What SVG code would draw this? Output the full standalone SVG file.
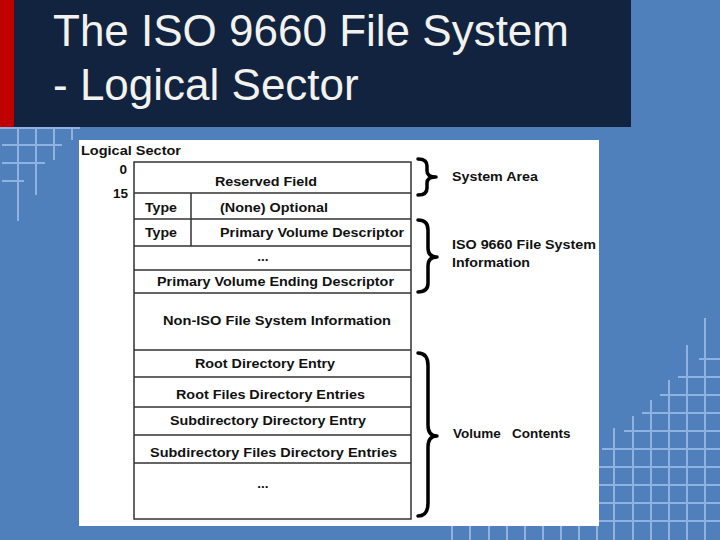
<svg xmlns="http://www.w3.org/2000/svg" width="720" height="540" viewBox="0 0 720 540">
<style>
.grid{stroke:#8FB2E0;stroke-width:2;fill:none}
.title{font-family:"Liberation Sans",Arial,sans-serif;font-size:44px;fill:#F2F2EE}
.t{font-family:"Liberation Sans","DejaVu Sans",sans-serif;font-weight:bold;font-size:13.5px;fill:#111}
.cell{fill:none;stroke:#333;stroke-width:1.5}
.brace{fill:none;stroke:#000;stroke-width:3.5;stroke-linejoin:round;stroke-linecap:round}
</style>
<rect x="0" y="0" width="720" height="540" fill="#5080BC"/>
<g id="grid-topleft">
<path class="grid" d="M0,128H80M18,128V221M36,128V195M54,128V160M72,128V140M2,145H62M2,163H45M2,181H24"/>
</g>
<g id="grid-bottomright">
<path class="grid" d="M614,428V540M633,416V540M651,400V540M669,380V540M687,345V540M705,318V540M699,359H720M678,377H720M660,395H720M642,413H720M624,431H720M602,449H720M450,467H720M450,485H720M450,503H720M450,521H720M452,460V540M470,460V540M489,460V540M507,460V540M525,460V540M543,460V540M561,460V540M579,460V540M597,460V540"/>
</g>
<g id="title">
<rect x="0" y="0" width="631" height="127" fill="#12233F"/>
<rect x="0" y="0" width="14" height="127" fill="#C00000"/>
<text class="title" x="53" y="46">The ISO 9660 File System</text>
<text class="title" x="53" y="100">- Logical Sector</text>
</g>
<rect x="79" y="140" width="520" height="386" fill="#FFFFFF"/>
<g id="header">
<text class="t" x="81" y="155" textLength="100" lengthAdjust="spacingAndGlyphs">Logical Sector</text>
<text class="t" x="127" y="174" text-anchor="end">0</text>
<text class="t" x="128" y="198" text-anchor="end">15</text>
</g>
<g id="table">
<rect class="cell" x="134" y="162" width="277" height="357"/>
<path class="cell" d="M134,193H411M134,219H411M134,246H411M134,270H411M134,293H411M134,350H411M134,377H411M134,407H411M134,435H411M134,463H411M191,193V246"/>
</g>
<g id="row-reserved"><text class="t" x="215" y="186" textLength="102" lengthAdjust="spacingAndGlyphs">Reserved Field</text></g>
<g id="row-optional">
<text class="t" x="145" y="212" textLength="32" lengthAdjust="spacingAndGlyphs">Type</text>
<text class="t" x="220" y="212" textLength="108" lengthAdjust="spacingAndGlyphs">(None) Optional</text>
</g>
<g id="row-pvd">
<text class="t" x="145" y="237" textLength="32" lengthAdjust="spacingAndGlyphs">Type</text>
<text class="t" x="220" y="237" textLength="184" lengthAdjust="spacingAndGlyphs">Primary Volume Descriptor</text>
</g>
<g id="row-dots1"><text class="t" x="263" y="261" text-anchor="middle">...</text></g>
<g id="row-pved"><text class="t" x="157" y="286" textLength="237" lengthAdjust="spacingAndGlyphs">Primary Volume Ending Descriptor</text></g>
<g id="row-noniso"><text class="t" x="163" y="325" textLength="228" lengthAdjust="spacingAndGlyphs">Non-ISO File System Information</text></g>
<g id="row-root"><text class="t" x="195" y="368" textLength="140" lengthAdjust="spacingAndGlyphs">Root Directory Entry</text></g>
<g id="row-rootfiles"><text class="t" x="176" y="399" textLength="189" lengthAdjust="spacingAndGlyphs">Root Files Directory Entries</text></g>
<g id="row-subdir"><text class="t" x="170" y="425" textLength="196" lengthAdjust="spacingAndGlyphs">Subdirectory Directory Entry</text></g>
<g id="row-subfiles"><text class="t" x="150" y="457" textLength="247" lengthAdjust="spacingAndGlyphs">Subdirectory Files Directory Entries</text></g>
<g id="row-dots2"><text class="t" x="263" y="488" text-anchor="middle">...</text></g>
<g id="connectors">
<path class="brace" d="M418,159Q427,159 427,166L427,171Q427,177 436,177Q427,177 427,183L427,188Q427,195 418,195"/>
<path class="brace" d="M418,220Q428,220 428,230L428,248Q428,257 437,257Q428,257 428,266L428,283Q428,292 418,292"/>
<path class="brace" d="M418,353Q428,353 428,366L428,425Q428,436 437,436Q428,436 428,447L428,503Q428,516 418,516"/>
</g>
<g id="label-system"><text class="t" x="452" y="181" textLength="86" lengthAdjust="spacingAndGlyphs">System Area</text></g>
<g id="label-iso">
<text class="t" x="452" y="249" textLength="144" lengthAdjust="spacingAndGlyphs">ISO 9660 File System</text>
<text class="t" x="452" y="267" textLength="78" lengthAdjust="spacingAndGlyphs">Information</text>
</g>
<g id="label-volume"><text class="t" y="438"><tspan x="453">Volume</tspan> <tspan x="512">Contents</tspan></text></g>
</svg>
